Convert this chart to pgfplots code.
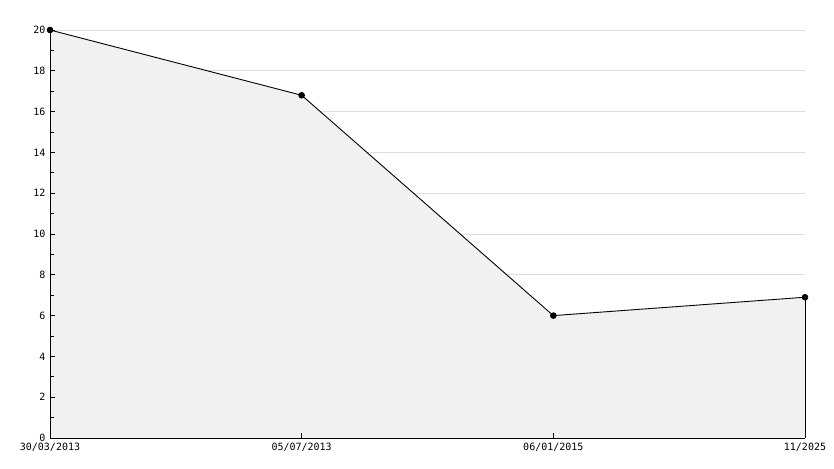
\documentclass[border=0pt]{standalone}
\usepackage{fontspec}
\setmonofont{DejaVu Sans Mono}
\usepackage{pgfplots}
\pgfplotsset{compat=1.18}
\definecolor{fillgray}{HTML}{F1F1F1}
\definecolor{gridgray}{HTML}{DDDDDD}
\begin{document}
\begin{tikzpicture}[x=1pt,y=1pt]
\begin{axis}[
  axis on top,
  at={(0,0)}, anchor=south west,
  scale only axis, width=755pt, height=408pt,
  xmin=0, xmax=3, ymin=0, ymax=20,
  axis x line=bottom, axis y line=left,
  axis line style={black, -, line width=1pt},
  xtick={0,1,2,3},
  xticklabels={30/03/2013,05/07/2013,06/01/2015,11/2025},
  ytick={0,2,...,20},
  minor y tick num=1,
  tick align=inside,
  major tick length=5pt, minor tick length=4pt,
  tick style={black, line width=0.9pt},
  ticklabel style={font=\ttfamily\fontsize{10}{11}\selectfont, text=black},
  /pgf/number format/assume math mode=true,
  xticklabel style={yshift=-1.5pt},
  yticklabel style={xshift=-1pt},
  clip=false,
]
\pgfplotsinvokeforeach{2,4,6,8,10,12,14,16,18,20}{
  \draw[gridgray, line width=0.8pt] (axis cs:0,#1) -- (axis cs:3,#1);
}
\addplot[draw=none, fill=fillgray] coordinates {(0,0) (0,20) (1,16.8) (2,6) (3,6.9) (3,0)} -- cycle;
\addplot[black, line width=0.9pt] coordinates {(3,0) (3,6.9)};
\addplot[black, line width=0.9pt, mark=*, mark size=2.8pt, mark options={fill=black}] coordinates {(0,20) (1,16.8) (2,6) (3,6.9)};
\end{axis}
\pgfresetboundingbox
\useasboundingbox (-50pt,-30pt) rectangle (784pt,438pt);
\end{tikzpicture}
\end{document}
